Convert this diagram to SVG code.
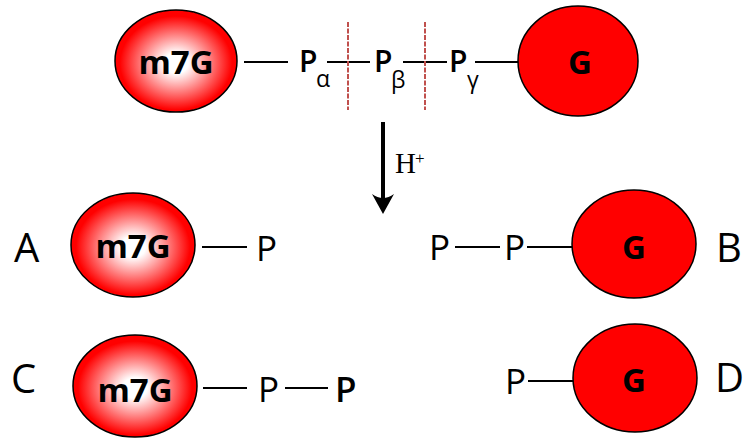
<svg xmlns="http://www.w3.org/2000/svg" width="745" height="441" viewBox="0 0 745 441">
  <defs>
    <radialGradient id="capGlow" cx="50%" cy="52%" r="50%">
      <stop offset="0" stop-color="#ffffff"/>
      <stop offset="0.2" stop-color="#ffffff"/>
      <stop offset="0.92" stop-color="#ff0000"/>
    </radialGradient>
  </defs>
  <style>
    .cap { fill: url(#capGlow); stroke: #000; stroke-width: 1.5; }
    .gua { fill: #ff0000; stroke: #000; stroke-width: 1.5; }
    .name { font-family: "Open Sans", "DejaVu Sans", sans-serif; font-weight: bold; font-size: 33px; fill: #000; text-anchor: middle; }
    .p { font-family: "Open Sans", "DejaVu Sans", sans-serif; font-size: 35px; fill: #000; }
    .pt { font-family: "Open Sans", "DejaVu Sans", sans-serif; font-size: 30px; font-weight: 600; fill: #000; }
    .sub { font-family: "Open Sans", "DejaVu Sans", sans-serif; font-size: 23px; fill: #000; }
    .lbl { font-family: "Open Sans", "DejaVu Sans", sans-serif; font-size: 40px; fill: #000; }
    .bond { stroke: #000; stroke-width: 2; fill: none; }
    .cut { stroke: #c0504d; stroke-width: 2; stroke-dasharray: 5 1.5; fill: none; }
  </style>

  <!-- bonds and reaction arrow -->
  <g id="connectors">
    <line class="bond" x1="244" y1="62" x2="288" y2="62"/>
    <line class="bond" x1="327" y1="62" x2="370" y2="62"/>
    <line class="bond" x1="403" y1="62" x2="447" y2="62"/>
    <line class="bond" x1="475" y1="62" x2="519" y2="62"/>
    <line class="cut" x1="348" y1="22" x2="348" y2="110"/>
    <line class="cut" x1="425" y1="22" x2="425" y2="110"/>

    <line x1="383" y1="122" x2="383" y2="202" stroke="#000" stroke-width="4"/>
    <path d="M383,214 L372,194 Q383,202 394,194 Z" fill="#000"/>

    <line class="bond" x1="202" y1="247" x2="247" y2="247"/>
    <line class="bond" x1="455" y1="247" x2="500" y2="247"/>
    <line class="bond" x1="527" y1="247" x2="573" y2="247"/>
    <line class="bond" x1="203" y1="388" x2="247" y2="388"/>
    <line class="bond" x1="285" y1="388" x2="328" y2="388"/>
    <line class="bond" x1="528" y1="381" x2="574" y2="381"/>
  </g>

  <!-- intact cap: m7G - Pα - Pβ - Pγ - G -->
  <g id="cap-m7g">
    <ellipse class="cap" cx="176" cy="61" rx="61" ry="51"/>
    <text class="name" x="176" y="74">m7G</text>
  </g>
  <g id="cap-pa">
    <text class="pt" x="299" y="72">P</text>
    <text class="sub" x="316" y="87">α</text>
  </g>
  <g id="cap-pb">
    <text class="pt" x="374" y="72">P</text>
    <text class="sub" x="391" y="88">β</text>
  </g>
  <g id="cap-pg">
    <text class="pt" x="449" y="72">P</text>
    <text class="sub" x="467" y="88">γ</text>
  </g>
  <g id="cap-g">
    <ellipse class="gua" cx="578" cy="61" rx="60" ry="55"/>
    <text class="name" x="580" y="74">G</text>
  </g>

  <g id="acid">
    <text x="395" y="173" font-family="'Liberation Serif', serif" font-size="29" fill="#000">H</text>
    <text x="415" y="164" font-family="'Liberation Serif', serif" font-size="17" fill="#000">+</text>
  </g>

  <!-- A: m7G-P -->
  <g id="product-a">
    <text class="lbl" x="14" y="262">A</text>
    <ellipse class="cap" cx="133" cy="245" rx="62" ry="52"/>
    <text class="name" x="133" y="258">m7G</text>
    <text class="p" x="256" y="261">P</text>
  </g>

  <!-- B: P-P-G -->
  <g id="product-b">
    <text class="p" x="429" y="260" font-weight="500">P</text>
    <text class="p" x="504" y="260" font-weight="500">P</text>
    <ellipse class="gua" cx="634" cy="244" rx="62" ry="54"/>
    <text class="name" x="634" y="259">G</text>
    <text class="lbl" x="716" y="262">B</text>
  </g>

  <!-- C: m7G-P-P -->
  <g id="product-c">
    <text class="lbl" x="11" y="393">C</text>
    <ellipse class="cap" cx="135" cy="386" rx="62" ry="51"/>
    <text class="name" x="135" y="402">m7G</text>
    <text class="p" x="258" y="402">P</text>
    <text class="p" x="335" y="402" font-weight="600">P</text>
  </g>

  <!-- D: P-G -->
  <g id="product-d">
    <text class="p" x="505" y="394" font-weight="500">P</text>
    <ellipse class="gua" cx="635" cy="378" rx="62" ry="54"/>
    <text class="name" x="634" y="392">G</text>
    <text class="lbl" x="715" y="392">D</text>
  </g>
</svg>
